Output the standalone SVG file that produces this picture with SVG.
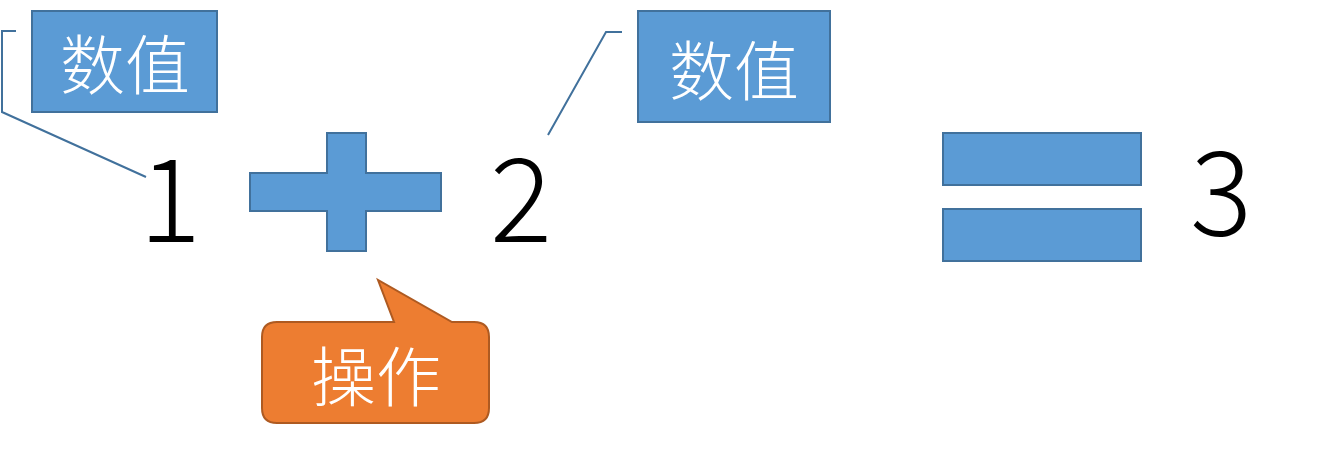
<svg xmlns="http://www.w3.org/2000/svg" width="1326" height="453" viewBox="0 0 1326 453">
<style>
.box{fill:#5B9BD5;stroke:#41719C;stroke-width:2}
.call{fill:#ED7D31;stroke:#AE5A21;stroke-width:2}
.lead{fill:none;stroke:#41719C;stroke-width:2}
.lbl{font-family:"Noto Sans CJK SC","Noto Sans CJK JP",sans-serif;font-weight:300;font-size:65px;fill:#fff;text-anchor:middle;dominant-baseline:central}
.num{font-family:"Noto Sans CJK JP","Noto Sans",sans-serif;font-weight:300;font-size:116px;fill:#000;text-anchor:middle}
</style>
<rect width="1326" height="453" fill="#fff"/>
<g id="connectors">
<polyline class="lead" points="16,31 2,31 2,112 146,177"/>
<polyline class="lead" points="622,32 606,32 548,135"/>
</g>
<g id="label1">
<rect class="box" x="32" y="11" width="185" height="101"/>
<text class="lbl" x="125" y="61">数值</text>
</g>
<g id="label2">
<rect class="box" x="638" y="11" width="192" height="111"/>
<text class="lbl" x="734" y="67">数值</text>
</g>
<g id="num1"><text class="num" x="170" y="242">1</text></g>
<g id="plus">
<path class="box" d="M250,173 H327 V133 H366 V173 H441 V211 H366 V251 H327 V211 H250 Z"/>
</g>
<g id="num2"><text class="num" x="521" y="242">2</text></g>
<g id="equals">
<rect class="box" x="943" y="133" width="198" height="52"/>
<rect class="box" x="943" y="209" width="198" height="52"/>
</g>
<g id="num3"><text class="num" x="1221" y="235">3</text></g>
<g id="op">
<path class="call" d="M277,322 H394 L378,280 L452,322 H474 Q489,322 489,337 V408 Q489,423 474,423 H277 Q262,423 262,408 V337 Q262,322 277,322 Z"/>
<text class="lbl" x="376" y="373">操作</text>
</g>
</svg>
